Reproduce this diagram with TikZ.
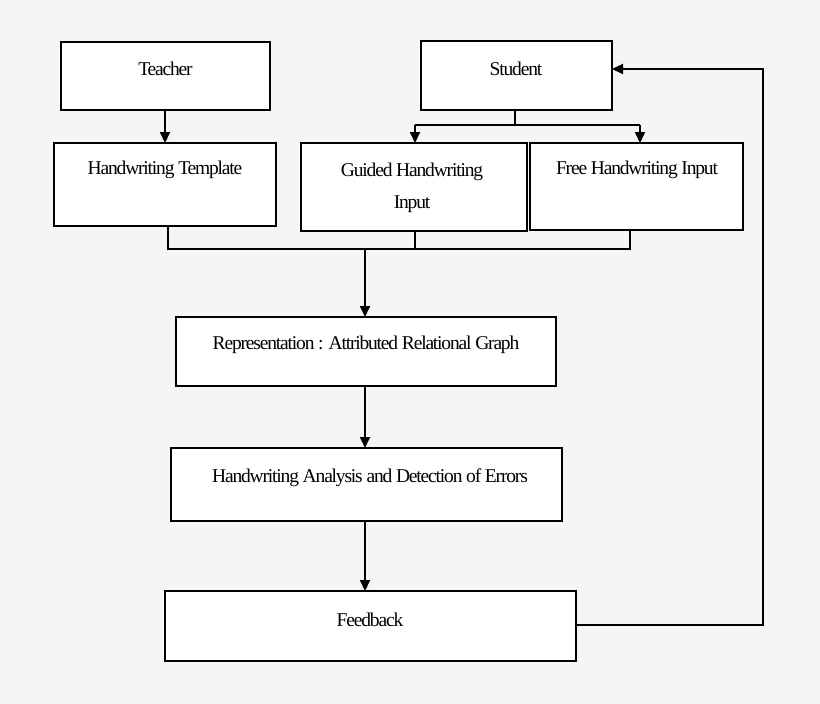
\documentclass[tikz,border=0pt]{standalone}
\usepackage{fontspec}
\setmainfont{Liberation Serif}[LetterSpace=-6]
\usetikzlibrary{arrows.meta}
\begin{document}
\begin{tikzpicture}[x=1pt,y=-1pt,
  box/.style={draw=black,line width=1.8pt,fill=white,inner sep=0pt},
  lbl/.style={font=\fontsize{19.5}{32}\selectfont,align=center},
  ln/.style={line width=2pt},
  ar/.style={line width=2pt,-{Triangle[length=11pt,width=10pt]}}]
\fill[gray!8] (0,0) rectangle (820,704);
\useasboundingbox (0,0) rectangle (820,704);
% boxes
\draw[box] (61,42) rectangle (270,110);
\node[lbl] (teacherT) at (165.5,69) {Teacher};
\draw[box] (421,41) rectangle (612,110);
\node[lbl] (studentT) at (516,69) {Student};
\draw[box] (54,143) rectangle (276,226);
\node[lbl] (tmplT) at (165,170) {Handwriting Template};
\draw[box] (301,143) rectangle (527,231);
\node[lbl] (guidT) at (412,188) {Guided Handwriting\\Input};
\draw[box] (530,143) rectangle (743,230);
\node[lbl] (freeT) at (637,170) {Free Handwriting Input};
\draw[box] (176,317) rectangle (556,386);
\node[lbl] (repT) at (366,345) {Representation : Attributed Relational Graph};
\draw[box] (171,448) rectangle (562,521);
\node[lbl] (anaT) at (370,478) {Handwriting Analysis and Detection of Errors};
\draw[box] (165,591) rectangle (576,661);
\node[lbl] (fbT) at (370,620) {Feedback};
% named anchor points
\coordinate (tB) at (165,110); \coordinate (tmT) at (165,143);
\coordinate (sB) at (515,110); \coordinate (sJ) at (515,125);
\coordinate (gL) at (415,125); \coordinate (fL) at (640,125);
\coordinate (gT) at (415,143); \coordinate (fT) at (640,143);
\coordinate (tmB) at (168,226); \coordinate (gB) at (415,231); \coordinate (fB) at (630,230);
\coordinate (j1) at (168,249); \coordinate (j2) at (415,249); \coordinate (j3) at (630,249);
\coordinate (jm) at (365,249); \coordinate (rT) at (365,317);
\coordinate (rB) at (365,386); \coordinate (aT) at (365,448);
\coordinate (aB) at (365,521); \coordinate (fbTop) at (365,591);
\coordinate (fbR) at (576,625); \coordinate (c1) at (763,625); \coordinate (c2) at (763,69);
\coordinate (sR) at (612,69);
% connectors
\draw[ar] (tB) -- (tmT);
\draw[ln] (sB) -- (sJ);
\draw[ln] (gL) -- (fL);
\draw[ar] (gL) -- (gT);
\draw[ar] (fL) -- (fT);
\draw[ln] (tmB) -- (j1) -- (j3) -- (fB);
\draw[ln] (gB) -- (j2);
\draw[ar] (jm) -- (rT);
\draw[ar] (rB) -- (aT);
\draw[ar] (aB) -- (fbTop);
\draw[ar] (fbR) -- (c1) -- (c2) -- (sR);
\end{tikzpicture}
\end{document}
